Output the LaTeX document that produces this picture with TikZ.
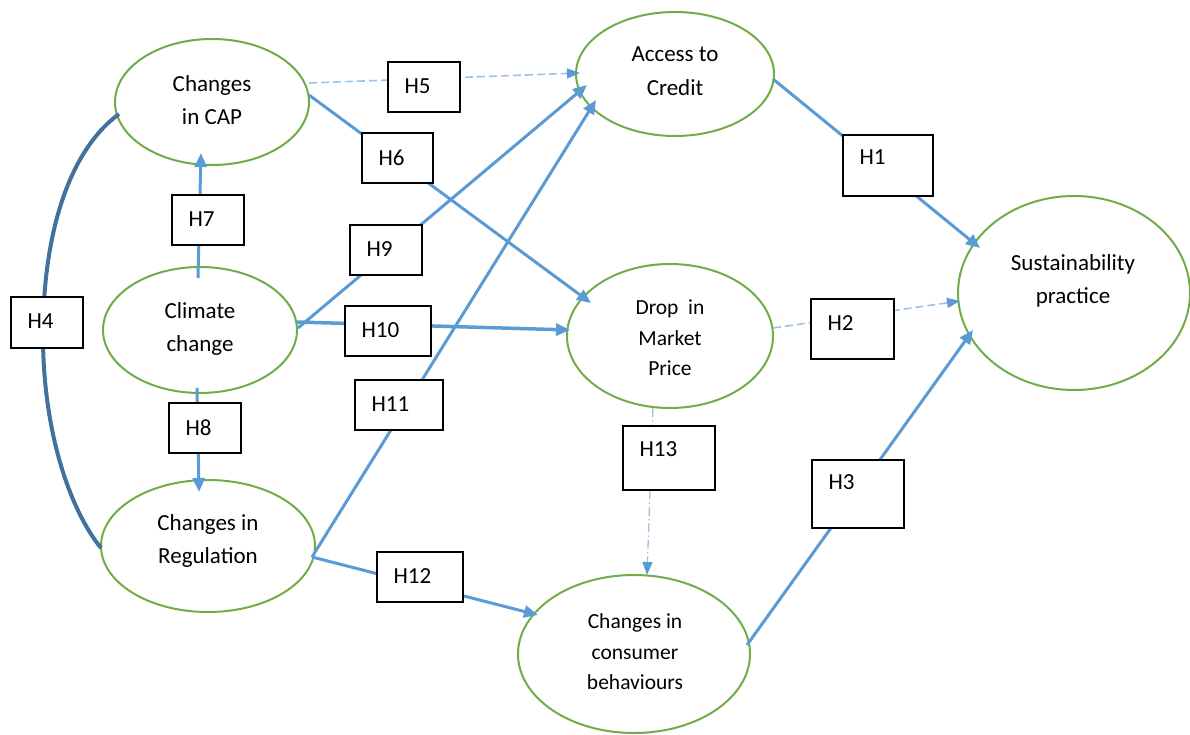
\documentclass[tikz,border=0pt]{standalone}
\usepackage{fontspec}
\setmainfont{Carlito}
\usetikzlibrary{shapes.geometric,arrows.meta,calc}
\definecolor{ellgreen}{HTML}{70AD47}
\definecolor{lblue}{HTML}{5B9BD5}
\definecolor{pblue}{HTML}{9DC3E6}
\definecolor{dblue}{HTML}{41719C}
\begin{document}
\begin{tikzpicture}[x=1pt,y=-1pt,
 ell/.style={draw=ellgreen,line width=2pt,ellipse,inner sep=0pt},
 lbl/.style={align=center,font=\fontsize{23}{33.5}\selectfont,inner sep=0pt},
 slbl/.style={align=center,font=\fontsize{21.5}{30.5}\selectfont,inner sep=0pt},
 hbox/.style={draw=black,line width=1.2pt,fill=white,inner sep=0pt},
 htxt/.style={anchor=west,font=\fontsize{23}{28}\selectfont,inner sep=0pt},
 link/.style={draw=lblue,line width=3pt,-{Triangle[length=14pt,width=12pt]}},
 dlink/.style={draw=pblue,line width=1.6pt,dash pattern=on 8pt off 4pt,-{Triangle[length=13pt,width=10pt,color=lblue,fill=lblue]}},
 ddlink/.style={draw=pblue,line width=1.3pt,dash pattern=on 9pt off 3pt on 1.5pt off 3pt,-{Triangle[length=13pt,width=10pt,color=lblue,fill=lblue]}},
 curv/.style={draw=dblue,line width=4pt}
]
\useasboundingbox (0,0) rectangle (1190,735);

% ellipses
\node[ell,minimum width=194pt,minimum height=126pt] (cap) at (212,102) {};
\node[ell,minimum width=194pt,minimum height=126pt] (clim) at (200,330) {};
\node[ell,minimum width=214pt,minimum height=132pt] (reg) at (208,546) {};
\node[ell,minimum width=198pt,minimum height=124pt] (acc) at (675,74) {};
\node[ell,minimum width=206pt,minimum height=144pt] (drop) at (670,336) {};
\node[ell,minimum width=232pt,minimum height=158pt] (cons) at (634,654) {};
\node[ell,minimum width=232pt,minimum height=194pt] (sust) at (1074,293) {};

% ellipse texts
\node[lbl] (capt) at (212,100) {Changes\\in CAP};
\node[lbl] (acct) at (675,71) {Access to\\Credit};
\node[lbl] (climt) at (200,329) {Climate\\change};
\node[lbl] (regt) at (208,541) {Changes in\\Regulation};
\node[slbl] (dropt) at (670,338) {Drop~~in\\Market\\Price};
\node[slbl] (const) at (635,652) {Changes in\\consumer\\behaviours};
\node[lbl] (sustt) at (1073,281) {Sustainability\\practice};

% connectors
\draw[dlink] ($(cap)+(97,-19)$) -- ($(acc)+(-95,-1)$);
\draw[link] ($(cap)+(97,-7)$) -- ($(drop)+(-79,-33)$);
\draw[link] ($(clim)+(-2,-52)$) -- ($(cap)+(-11,51)$);
\draw[link] ($(clim)+(-3,58)$) -- ($(reg)+(-9,-54)$);
\draw[link] ($(clim)+(98,-2)$) -- ($(acc)+(-88,11)$);
\draw[link,line width=3.5pt] ($(clim)+(97,-8)$) -- ($(drop)+(-100,-6)$);
\draw[link] ($(reg)+(104,11)$) -- ($(acc)+(-79,26)$);
\draw[link] ($(reg)+(104,11)$) -- ($(cons)+(-96,-39)$);
\draw[link] ($(acc)+(98,5)$) -- ($(sust)+(-94,-45)$);
\draw[dlink] ($(drop)+(103,-8)$) -- ($(sust)+(-114,8)$);
\draw[ddlink] ($(drop)+(-17,72)$) -- ($(cons)+(13,-79)$);
\draw[link] ($(cons)+(113,-9)$) -- ($(sust)+(-101,37)$);
\draw[curv] ($(cap)+(-93,12)$) .. controls (70,150) and (44,230) .. (43,330)
  .. controls (42,430) and (70,510) .. ($(reg)+(-107,2)$);

% hypothesis boxes
\node[hbox,minimum width=72pt,minimum height=50pt] (b5) at (424,87) {};
\node[hbox,minimum width=71pt,minimum height=50pt] (b6) at (397.5,158) {};
\node[hbox,minimum width=72pt,minimum height=50pt] (b7) at (208,220) {};
\node[hbox,minimum width=72pt,minimum height=50pt] (b9) at (386,250) {};
\node[hbox,minimum width=86pt,minimum height=50pt] (b10) at (388,331) {};
\node[hbox,minimum width=72pt,minimum height=51pt] (b4) at (47,322.5) {};
\node[hbox,minimum width=72pt,minimum height=50pt] (b8) at (205,428) {};
\node[hbox,minimum width=88pt,minimum height=50pt] (b11) at (399,405) {};
\node[hbox,minimum width=86pt,minimum height=50pt] (b12) at (420,577) {};
\node[hbox,minimum width=92pt,minimum height=64pt] (b13) at (669,458) {};
\node[hbox,minimum width=92pt,minimum height=68pt] (b3) at (858,494) {};
\node[hbox,minimum width=90pt,minimum height=61pt] (b1) at (888,165.5) {};
\node[hbox,minimum width=83pt,minimum height=60pt] (b2) at (852.5,329) {};

\node[htxt] (t5) at ($(b5.north west)+(17,25)$) {H5};
\node[htxt] (t6) at ($(b6.north west)+(17,25)$) {H6};
\node[htxt] (t7) at ($(b7.north west)+(17,25)$) {H7};
\node[htxt] (t9) at ($(b9.north west)+(17,25)$) {H9};
\node[htxt] (t10) at ($(b10.north west)+(17,25)$) {H10};
\node[htxt] (t4) at ($(b4.north west)+(17,25)$) {H4};
\node[htxt] (t8) at ($(b8.north west)+(17,25)$) {H8};
\node[htxt] (t11) at ($(b11.north west)+(17,25)$) {H11};
\node[htxt] (t12) at ($(b12.north west)+(17,25)$) {H12};
\node[htxt] (t13) at ($(b13.north west)+(17,24)$) {H13};
\node[htxt] (t3) at ($(b3.north west)+(17,23)$) {H3};
\node[htxt] (t1) at ($(b1.north west)+(17,23)$) {H1};
\node[htxt] (t2) at ($(b2.north west)+(17,25)$) {H2};
\end{tikzpicture}
\end{document}
